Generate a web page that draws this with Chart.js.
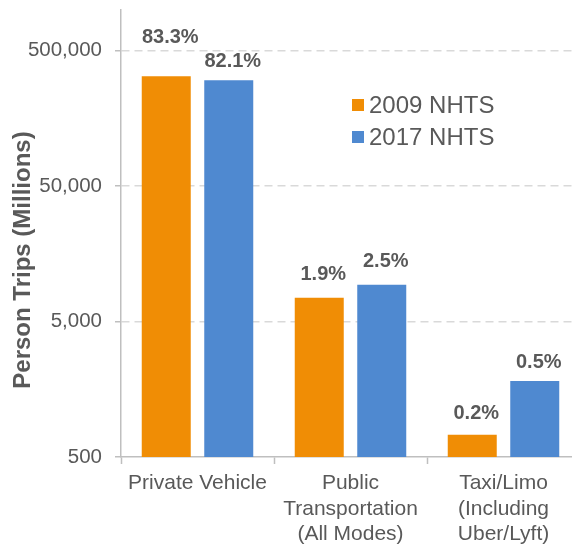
<!DOCTYPE html>
<html>
<head>
<meta charset="utf-8">
<script src="https://cdn.jsdelivr.net/npm/chart.js@4.4.1/dist/chart.umd.min.js"></script>
<style>
html, body { margin:0; padding:0; overflow:hidden; background:#ffffff; }
#wrap { width:580px; height:544px; }
</style>
</head>
<body>
<div id="wrap"><canvas id="c" width="580" height="544"></canvas></div>
<script>
const categories = [['Private Vehicle'], ['Public', 'Transportation', '(All Modes)'], ['Taxi/Limo', '(Including', 'Uber/Lyft)']];
const seriesNames = ['2009 NHTS', '2017 NHTS'];
const trips2009 = [323700, 7500, 730];
const trips2017 = [302500, 9350, 1820];
const share2009 = ['83.3%', '1.9%', '0.2%'];
const share2017 = ['82.1%', '2.5%', '0.5%'];
const yTicks = [500, 5000, 50000, 500000];
const yTitle = 'Person Trips (Millions)';

const ORANGE = '#F08D05';
const BLUE = '#4F89D0';
const TEXT = '#595959';
const FONT = "'Liberation Sans', Arial, sans-serif";

const shareLabels = [share2009, share2017];

const extras = {
  id: 'extras',
  afterDatasetsDraw(chart) {
    const ctx = chart.ctx;
    // data labels
    const lift = [[39, 23, 21], [19, 23, 19]];
    ctx.save();
    ctx.fillStyle = TEXT;
    ctx.font = "bold 20px " + FONT;
    ctx.textAlign = 'center';
    ctx.textBaseline = 'middle';
    chart.data.datasets.forEach((ds, di) => {
      const meta = chart.getDatasetMeta(di);
      meta.data.forEach((bar, i) => {
        ctx.fillText(shareLabels[di][i], bar.x + 4, bar.y - lift[di][i]);
      });
    });
    ctx.restore();

    // legend
    ctx.save();
    ctx.font = "24px " + FONT;
    ctx.textAlign = 'left';
    ctx.textBaseline = 'middle';
    chart.data.datasets.forEach((ds, di) => {
      const cy = 105 + di * 32;
      ctx.fillStyle = ds.backgroundColor;
      ctx.fillRect(352, cy - 6, 12, 12);
      ctx.fillStyle = TEXT;
      ctx.fillText(ds.label, 369, cy + 1);
    });
    ctx.restore();

    // y axis title
    ctx.save();
    ctx.translate(23, 260);
    ctx.rotate(-Math.PI / 2);
    ctx.font = "bold 24px " + FONT;
    ctx.fillStyle = TEXT;
    ctx.textAlign = 'center';
    ctx.textBaseline = 'middle';
    ctx.fillText(yTitle, 0, 0);
    ctx.restore();
  }
};

new Chart(document.getElementById('c'), {
  type: 'bar',
  data: {
    labels: categories,
    datasets: [
      { label: seriesNames[0], data: trips2009, backgroundColor: ORANGE },
      { label: seriesNames[1], data: trips2017, backgroundColor: BLUE }
    ]
  },
  options: {
    responsive: false,
    animation: false,
    devicePixelRatio: 1,
    layout: { padding: { top: 10, left: 0, right: 0, bottom: 0 } },
    datasets: { bar: { categoryPercentage: 0.817, barPercentage: 0.784 } },
    plugins: { legend: { display: false }, tooltip: { enabled: false } },
    scales: {
      x: {
        afterFit(scale) { scale.height = 87; scale.paddingLeft = 0; scale.paddingRight = 0; },
        grid: { offset: true, drawOnChartArea: false, drawTicks: true, tickLength: 7, tickColor: '#BFBFBF', tickWidth: 1.5 },
        border: { display: true, color: '#BFBFBF', width: 1.5 },
        ticks: { color: TEXT, font: { family: FONT, size: 21, lineHeight: 1.2 }, padding: 7, maxRotation: 0, autoSkip: false }
      },
      y: {
        type: 'logarithmic',
        min: 500,
        max: 1000000,
        afterFit(scale) { scale.width = 121; scale.paddingTop = 0; scale.paddingBottom = 0; },
        afterBuildTicks(scale) { scale.ticks = yTicks.map(v => ({ value: v })); },
        grid: {
          color: (c) => (c.tick && c.tick.value === 500) ? 'rgba(0,0,0,0)' : '#D9D9D9',
          lineWidth: 1.5,
          drawTicks: true,
          tickLength: 6,
          tickColor: '#BFBFBF',
          tickWidth: 1.5
        },
        border: { display: true, color: '#BFBFBF', width: 1.5, dash: [8, 5] },
        ticks: {
          color: TEXT,
          font: { family: FONT, size: 20.5 },
          padding: 13,
          callback: (v) => Number(v).toLocaleString('en-US')
        }
      }
    }
  },
  plugins: [extras]
});
</script>
</body>
</html>
